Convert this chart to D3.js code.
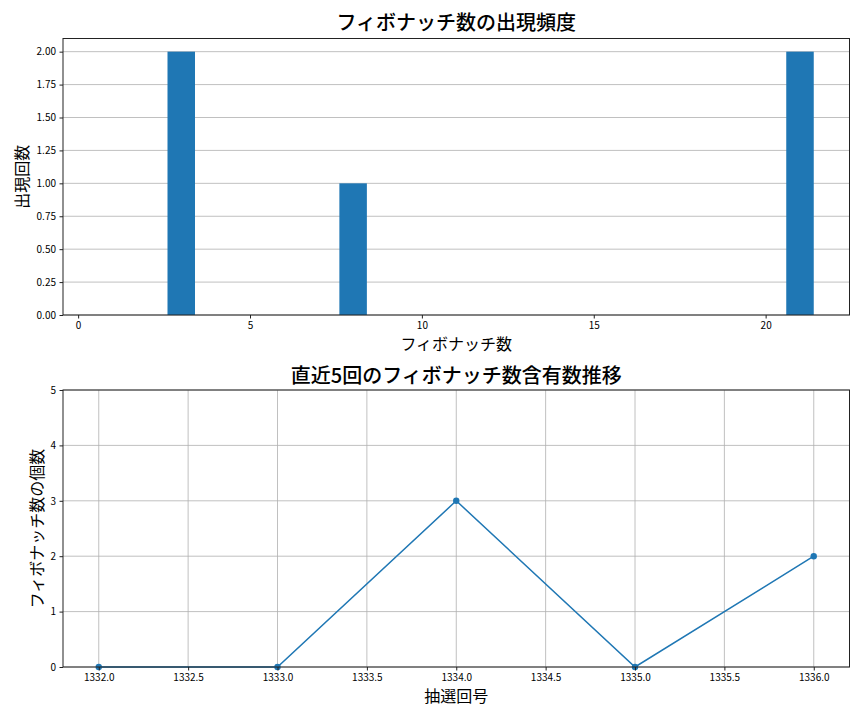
<!DOCTYPE html>
<html><head><meta charset="utf-8">
<script src="https://cdn.jsdelivr.net/npm/d3@7"></script>
<style>
body{margin:0;background:#fff;}
text{font-family:"Noto Sans CJK JP","Noto Sans",sans-serif;fill:#000;}
</style></head>
<body><svg id="c" width="864" height="720"></svg>
<script>
// Data
const fibNumbers = [1, 2, 3, 5, 8, 13, 21];
const fibCounts = [0, 0, 2, 0, 1, 0, 2];
const yTicksTop = [0, 0.25, 0.5, 0.75, 1.0, 1.25, 1.5, 1.75, 2.0];
const xTicksTop = [0, 5, 10, 15, 20];
const drawNumbers = [1332, 1333, 1334, 1335, 1336];
const fibPerDraw = [0, 0, 3, 0, 2];
const xTicksBottom = [1332.0, 1332.5, 1333.0, 1333.5, 1334.0, 1334.5, 1335.0, 1335.5, 1336.0];
const yTicksBottom = [0, 1, 2, 3, 4, 5];

const svg = d3.select("#c");
const blue = "#1f77b4", grid = "#b0b0b0";
const L = 63, R = 849.5;

// ---------- Top: bar chart ----------
const t = {top: 38.5, bottom: 315};
const barW = 0.8;
const xmin = d3.min(fibNumbers) - barW/2, xmax = d3.max(fibNumbers) + barW/2;
const pad = (xmax - xmin) * 0.05;
const x1 = d3.scaleLinear().domain([xmin - pad, xmax + pad]).range([L, R]);
const y1 = d3.scaleLinear().domain([0, d3.max(fibCounts) * 1.05]).range([t.bottom, t.top]);
const g1 = svg.append("g");
g1.selectAll("line.grid").data(yTicksTop).join("line")
  .attr("x1", L).attr("x2", R).attr("y1", d => y1(d)).attr("y2", d => y1(d))
  .attr("stroke", grid).attr("stroke-width", 0.8);
g1.selectAll("rect").data(fibNumbers.map((v, i) => ({v, c: fibCounts[i]}))).join("rect")
  .attr("x", d => x1(d.v - barW/2)).attr("width", d => x1(d.v + barW/2) - x1(d.v - barW/2))
  .attr("y", d => y1(d.c)).attr("height", d => y1(0) - y1(d.c))
  .attr("fill", blue);
g1.append("g").attr("transform", `translate(0,${t.bottom})`)
  .call(d3.axisBottom(x1).tickValues(xTicksTop).tickFormat(d3.format("d")).tickSize(3.5).tickPadding(3.5));
g1.append("g").attr("transform", `translate(${L},0)`)
  .call(d3.axisLeft(y1).tickValues(yTicksTop).tickFormat(d3.format(".2f")).tickSize(3.5).tickPadding(3.5));
g1.append("rect").attr("x", L).attr("y", t.top).attr("width", R - L).attr("height", t.bottom - t.top)
  .attr("fill", "none").attr("stroke", "#222").attr("stroke-width", 1);
g1.append("text").attr("x", (L + R) / 2).attr("y", 30).attr("text-anchor", "middle")
  .attr("font-size", 20).attr("font-weight", 500).text("フィボナッチ数の出現頻度");
g1.append("text").attr("x", (L + R) / 2).attr("y", 350).attr("text-anchor", "middle")
  .attr("font-size", 16).text("フィボナッチ数");
g1.append("text").attr("transform", `translate(28,${(t.top + t.bottom) / 2}) rotate(-90)`)
  .attr("text-anchor", "middle").attr("font-size", 16).text("出現回数");

// ---------- Bottom: line chart ----------
const b = {top: 390, bottom: 667};
const dpad = (d3.max(drawNumbers) - d3.min(drawNumbers)) * 0.05;
const x2 = d3.scaleLinear().domain([d3.min(drawNumbers) - dpad, d3.max(drawNumbers) + dpad]).range([L, R]);
const y2 = d3.scaleLinear().domain([0, 5]).range([b.bottom, b.top]);
const g2 = svg.append("g");
g2.selectAll("line.gy").data(yTicksBottom).join("line")
  .attr("x1", L).attr("x2", R).attr("y1", d => y2(d)).attr("y2", d => y2(d))
  .attr("stroke", grid).attr("stroke-width", 0.8);
g2.selectAll("line.gx").data(xTicksBottom).join("line")
  .attr("y1", b.top).attr("y2", b.bottom).attr("x1", d => x2(d)).attr("x2", d => x2(d))
  .attr("stroke", grid).attr("stroke-width", 0.8);
const pts = drawNumbers.map((v, i) => ({x: v, y: fibPerDraw[i]}));
g2.append("path").datum(pts)
  .attr("d", d3.line().x(d => x2(d.x)).y(d => y2(d.y)))
  .attr("fill", "none").attr("stroke", blue).attr("stroke-width", 1.5);
g2.selectAll("circle").data(pts).join("circle")
  .attr("cx", d => x2(d.x)).attr("cy", d => y2(d.y)).attr("r", 3.2).attr("fill", blue);
g2.append("g").attr("transform", `translate(0,${b.bottom})`)
  .call(d3.axisBottom(x2).tickValues(xTicksBottom).tickFormat(d3.format(".1f")).tickSize(3.5).tickPadding(3.5));
g2.append("g").attr("transform", `translate(${L},0)`)
  .call(d3.axisLeft(y2).tickValues(yTicksBottom).tickFormat(d3.format("d")).tickSize(3.5).tickPadding(3.5));
g2.append("rect").attr("x", L).attr("y", b.top).attr("width", R - L).attr("height", b.bottom - b.top)
  .attr("fill", "none").attr("stroke", "#222").attr("stroke-width", 1);
g2.append("text").attr("x", (L + R) / 2).attr("y", 383).attr("text-anchor", "middle")
  .attr("font-size", 20).attr("font-weight", 500).text("直近5回のフィボナッチ数含有数推移");
g2.append("text").attr("x", (L + R) / 2).attr("y", 702).attr("text-anchor", "middle")
  .attr("font-size", 16).text("抽選回号");
g2.append("text").attr("transform", `translate(43,${(b.top + b.bottom) / 2}) rotate(-90)`)
  .attr("text-anchor", "middle").attr("font-size", 16).text("フィボナッチ数の個数");

svg.selectAll(".domain").remove();
svg.selectAll(".tick text").attr("font-size", 10).style("font-family", '"Noto Sans CJK JP",sans-serif');
svg.selectAll(".tick line").attr("stroke", "#222");
</script></body></html>
